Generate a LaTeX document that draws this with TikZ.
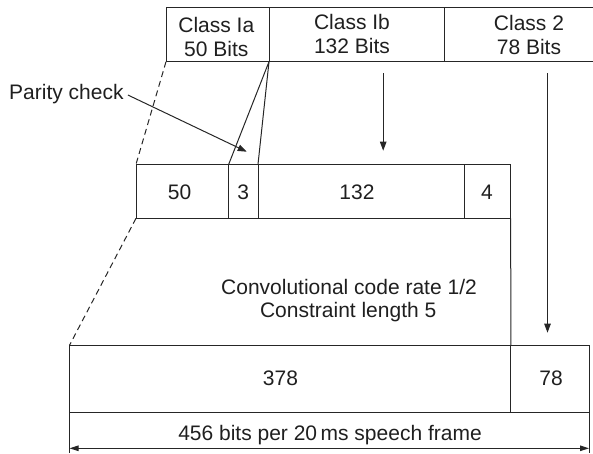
\documentclass[tikz,border=0pt]{standalone}
\usepackage{fontspec}
\setmainfont{Liberation Sans}
\usetikzlibrary{arrows.meta}
\begin{document}
\begin{tikzpicture}[x=1pt,y=-1pt,
  line/.style={draw=black!85, line width=1pt},
  cell/.style={line, rectangle, inner sep=0pt, outer sep=0pt},
  blank/.style={rectangle, inner sep=0pt, outer sep=0pt},
  txt/.style={inner sep=0pt, text=black!88, font=\fontsize{21}{23.5}\selectfont, align=center},
  arr/.style={line, -{Triangle[length=9pt,width=6.5pt]}},
  dimline/.style={line, {Triangle[length=9pt,width=5.5pt]}-{Triangle[length=9pt,width=5.5pt]}},
  dashline/.style={line, dash pattern=on 6pt off 4pt}
]
\useasboundingbox (0,0) rectangle (593,453);

% top row
\node[cell, minimum width=103pt, minimum height=54.4pt] (ia) at (217.5,34.5) {};
\node[cell, minimum width=175.3pt, minimum height=54.4pt] (ib) at (356.65,34.5) {};
\node[blank, minimum width=148.7pt, minimum height=54.4pt] (c2) at (518.65,34.5) {};
\draw[line] (c2.north west) -- (c2.north east);
\draw[line] (c2.south west) -- (c2.south east);
\node[txt] (tia) at (216.3,37.2) {Class Ia\\50 Bits};
\node[txt] (tib) at (352,34.2) {Class Ib\\132 Bits};
\node[txt] (tc2) at (529,35) {Class 2\\78 Bits};

% middle row
\node[cell, minimum width=92.7pt, minimum height=54pt] (m50) at (182.35,191.3) {};
\node[cell, minimum width=29.3pt, minimum height=54pt] (m3) at (243.35,191.3) {};
\node[cell, minimum width=206.3pt, minimum height=54pt] (m132) at (361.15,191.3) {};
\node[cell, minimum width=46.4pt, minimum height=54pt] (m4) at (487.5,191.3) {};
\node[txt] (t50) at (179.5,192.7) {50};
\node[txt] (t3) at (243.3,192.7) {3};
\node[txt] (t132) at (357,192.7) {132};
\node[txt] (t4) at (487,192.7) {4};

% bottom row
\node[cell, minimum width=441.3pt, minimum height=66.7pt] (b378) at (290.15,378.65) {};
\node[cell, minimum width=78.2pt, minimum height=66.7pt] (b78) at (549.9,378.65) {};
\node[txt] (t378) at (280.5,378.5) {378};
\node[txt] (t78) at (551,378.5) {78};

% texts
\node[txt, anchor=base west] (parity) at (9,99.3) {Parity check};
\node[txt, anchor=base] (conv) at (349,294) {Convolutional code rate 1/2};
\node[txt, anchor=base] (constr) at (348.2,317.7) {Constraint length 5};
\node[txt, anchor=base] (frame) at (330,440.7) {456 bits per 20\,ms speech frame};

% connectors between rows
\draw[dashline] (ia.south west) -- (m50.north west);
\draw[dashline] (m50.south west) -- (b378.north west);
\draw[line] (ia.south east) -- (m3.north west);
\draw[line] (ia.south east) -- (m3.north east);
\draw[line] (m4.south east) -- (b378.north east);

% arrows
\coordinate (ibs) at (383.2,73.3);
\coordinate (ibe) at (383.2,150.7);
\draw[arr] (ibs) -- (ibe);
\coordinate (c2s) at (547.5,73.3);
\coordinate (c2e) at (547.5,332.7);
\draw[arr] (c2s) -- (c2e);
\coordinate (ps) at (127.9,95);
\coordinate (pe) at (246.7,151.7);
\draw[arr] (ps) -- (pe);

% dimension
\coordinate (dl) at (b378.south west |- 0,453);
\coordinate (dr) at (b78.south east |- 0,453);
\draw[line] (b378.south west) -- (dl);
\draw[line] (b78.south east) -- (dr);
\coordinate (al) at (b378.south west |- 0,448.3);
\coordinate (ar) at (b78.south east |- 0,448.3);
\draw[dimline] (al) -- (ar);
\end{tikzpicture}
\end{document}
